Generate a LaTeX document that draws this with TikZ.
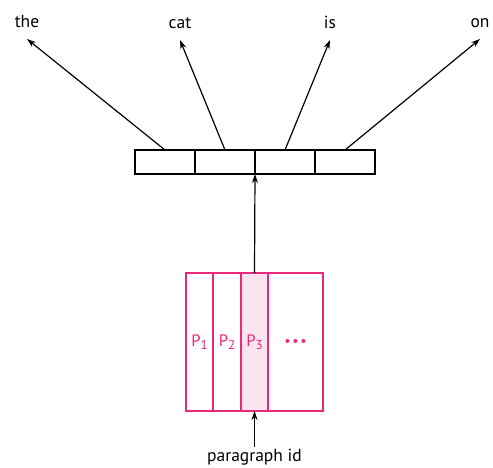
\documentclass[tikz,border=0pt]{standalone}
\usepackage{fontspec}
\setmainfont{PT Sans}
\usetikzlibrary{arrows.meta}
\definecolor{pinkline}{RGB}{232,40,122}
\definecolor{pinkfill}{RGB}{252,228,238}
\newcommand{\psub}[1]{P\raisebox{-2.5pt}{\fontsize{13}{14}\selectfont #1}}
\begin{document}
\begin{tikzpicture}[x=1pt,y=-1pt,
  every node/.style={font=\fontsize{17.5}{20}\selectfont},
  cell/.style={draw=black,line width=1.2pt,minimum width=60pt,minimum height=24pt,inner sep=0pt,outer sep=0pt},
  pcell/.style={draw=pinkline,line width=1.3pt,minimum height=138pt,inner sep=0pt,outer sep=0pt,text=pinkline,font=\fontsize{16.5}{18}\selectfont},
  word/.style={anchor=south,text height=12pt,text depth=3pt,inner ysep=8pt,inner xsep=0pt},
  arr/.style={line width=1.2pt,-{Stealth[length=9pt,width=6pt]}}]
\useasboundingbox (0,0) rectangle (493,468);
% words
\node[word] (the) at (27,39) {the};
\node[word] (cat) at (180,40) {cat};
\node[word] (is) at (330,40) {is};
\node[word] (on) at (480,39) {on};
% top cells
\node[cell] (c1) at (165,162) {};
\node[cell] (c2) at (225,162) {};
\node[cell] (c3) at (285,162) {};
\node[cell] (c4) at (345,162) {};
% pink block
\node[pcell,minimum width=27pt] (p1) at (199.5,342) {\psub{1}};
\node[pcell,minimum width=28pt] (p2) at (227,342) {\psub{2}};
\node[pcell,minimum width=27pt,fill=pinkfill] (p3) at (254.5,342) {\psub{3}};
\node[pcell,minimum width=55pt] (p4) at (295.5,342) {\textbf{\fontsize{13}{14}\selectfont•\,•\,•}};
% bottom label
\node[anchor=north,text height=13pt,text depth=4pt,inner ysep=1pt] (pid) at (254.5,447) {paragraph id};
% arrows
\draw[arr] (c1.north) -- (the.south);
\draw[arr] (c2.north) -- (cat.south);
\draw[arr] (c3.north) -- (is.south);
\draw[arr] (c4.north) -- (on.south);
\draw[arr] (p3.north) -- (c2.south east);
\draw[arr] (pid.north) -- (p3.south);
\end{tikzpicture}
\end{document}
